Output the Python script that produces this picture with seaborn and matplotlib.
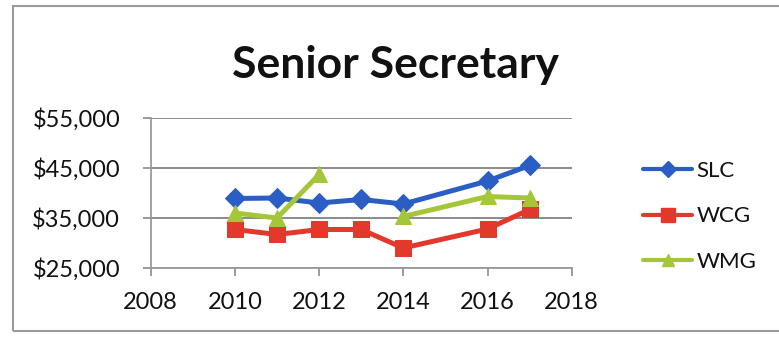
import numpy as np
import pandas as pd
import seaborn as sns
import matplotlib
matplotlib.use("Agg")
import matplotlib.pyplot as plt
from matplotlib.lines import Line2D
from matplotlib.patches import Rectangle
from matplotlib.ticker import FuncFormatter

# Salary data per year (no survey in 2015; WMG missing 2013)
years = [2010, 2011, 2012, 2013, 2014, 2016, 2017]
slc = [38900, 39000, 38000, 38700, 37800, 42400, 45500]
wcg = [32700, 31700, 32700, 32700, 29000, 32800, 36700]
wmg = [36000, 35000, 43700, np.nan, 35300, 39300, 39000]

series_names = ["SLC", "WCG", "WMG"]
series_values = [slc, wcg, wmg]
colors = {"SLC": "#2B5EC4", "WCG": "#E2392C", "WMG": "#A6C63A"}
markers = {"SLC": "D", "WCG": "s", "WMG": "^"}
msizes = {"SLC": 10.5, "WCG": 12, "WMG": 11}

rows = []
for name, vals in zip(series_names, series_values):
    seg = 0
    for y, v in zip(years, vals):
        if np.isnan(v):
            seg += 1
            continue
        rows.append({"year": y, "salary": v, "series": name, "segment": f"{name}-{seg}"})
df = pd.DataFrame(rows)

sns.set_theme(style="white")
plt.rcParams["font.family"] = ["Lato", "DejaVu Sans"]

fig = plt.figure(figsize=(7.79, 3.38), dpi=100)
ax = fig.add_axes([0.1935, 0.2071, 0.5404, 0.4438])

for name in series_names:
    sub = df[df["series"] == name]
    sns.lineplot(data=sub, x="year", y="salary", units="segment", estimator=None,
                 color=colors[name], marker=markers[name], markersize=msizes[name],
                 markeredgecolor=colors[name], linewidth=3.6, ax=ax, legend=False,
                 zorder=3)

ax.set_xlim(2008, 2018)
ax.set_ylim(25000, 55000)
ax.set_xticks([2008, 2010, 2012, 2014, 2016, 2018])
ax.set_yticks([25000, 35000, 45000, 55000])
ax.yaxis.set_major_formatter(FuncFormatter(lambda v, p: f"${v:,.0f}"))
ax.set_xlabel("")
ax.set_ylabel("")

ax.grid(axis="y", color="#8a8a8a", linewidth=1.4)
ax.grid(axis="x", visible=False)
for side in ["top", "right"]:
    ax.spines[side].set_visible(False)
for side in ["left", "bottom"]:
    ax.spines[side].set_color("#9a9a9a")
    ax.spines[side].set_linewidth(1.3)
ax.tick_params(axis="both", which="major", direction="out", length=6, width=1.2,
               color="#8a8a8a", labelsize=17, labelcolor="#111111",
               left=True, bottom=True)
ax.tick_params(axis="y", pad=16)
ax.tick_params(axis="x", pad=11)

fig.suptitle("Senior Secretary", x=0.508, y=0.808, fontsize=32, fontweight="bold",
             color="#111111", va="center")

handles = [Line2D([0], [0], color=colors[n], marker=markers[n], markersize=msizes[n] - 2,
                  linewidth=3.0) for n in series_names]
fig.legend(handles, series_names, loc="center left", bbox_to_anchor=(0.800, 0.36),
           frameon=False, fontsize=16, handlelength=2.2, handletextpad=0.2,
           labelspacing=1.15, labelcolor="#111111")

fig.add_artist(Rectangle((13 / 779, 1 - 331 / 338), 1.2, (331 - 6) / 338,
                         transform=fig.transFigure, fill=False,
                         edgecolor="#9a9a9a", linewidth=1.5))

fig.savefig("out.png", dpi=100, facecolor="white")
